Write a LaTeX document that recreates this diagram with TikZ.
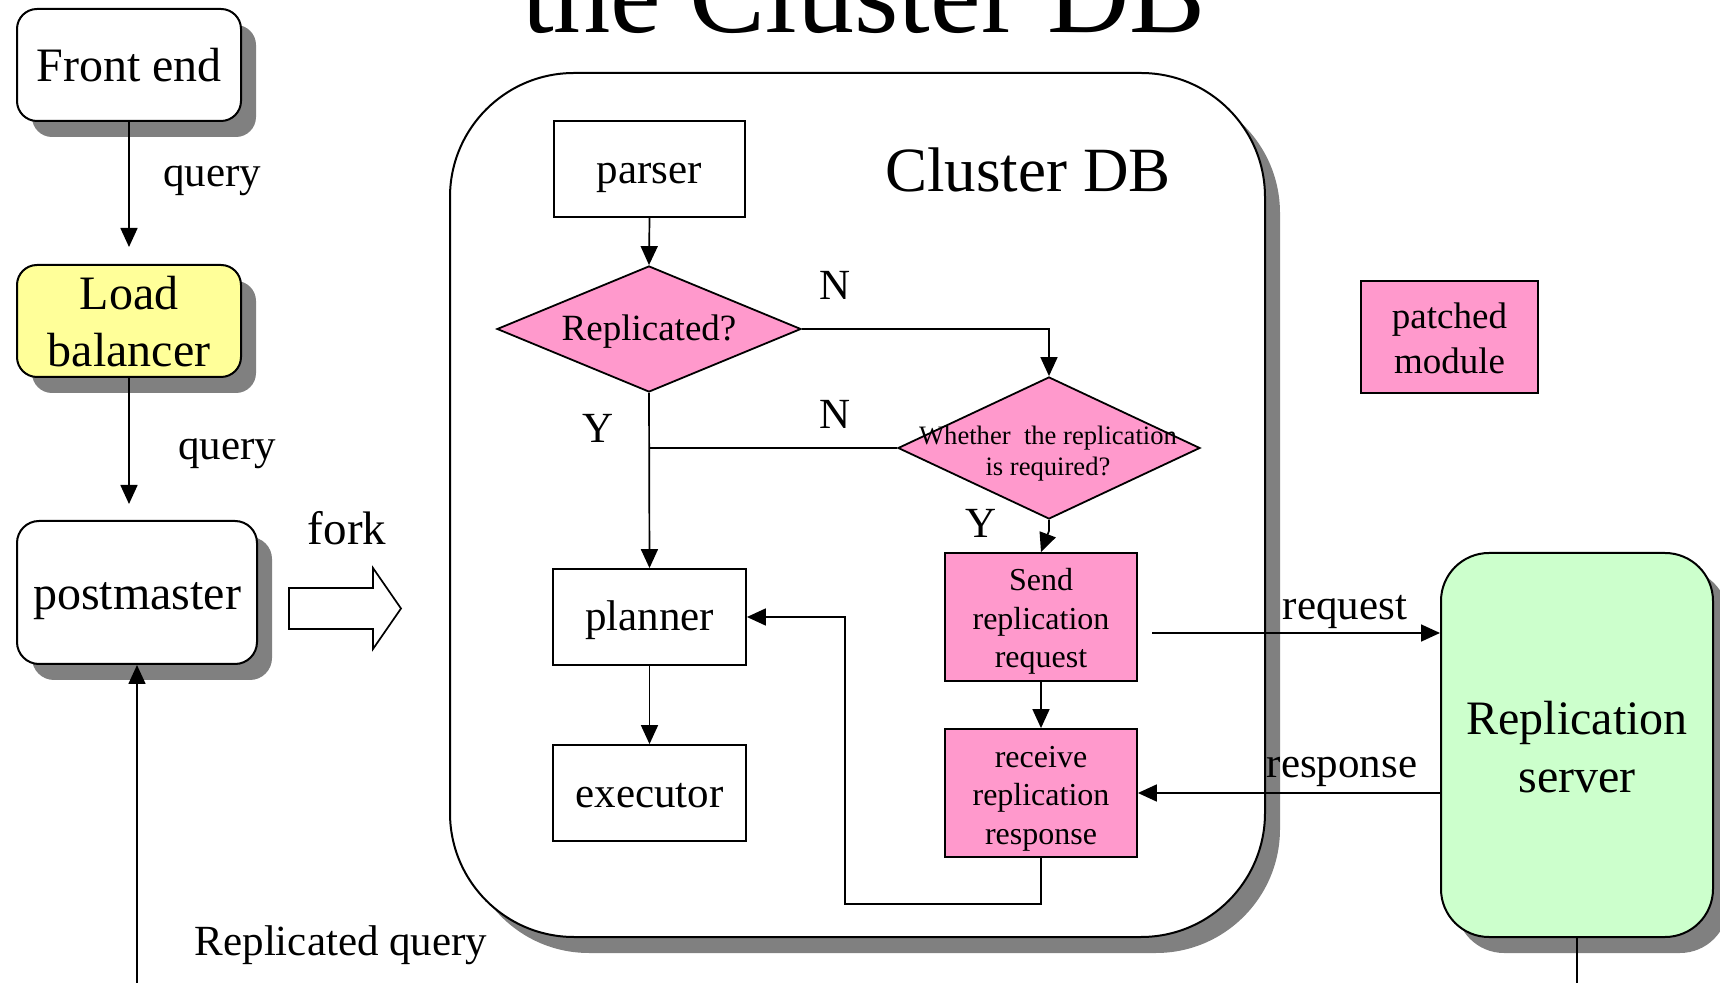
\documentclass[tikz,border=0pt]{standalone}
\usepackage{fontspec}
\setmainfont{Liberation Serif}
\usetikzlibrary{shapes.geometric,shadows,arrows.meta}

\definecolor{pinkfill}{HTML}{FF99CC}
\definecolor{yellowfill}{HTML}{FFFF99}
\definecolor{greenfill}{HTML}{CCFFCC}
\definecolor{shadowgray}{HTML}{808080}

\newcommand\fsz[2]{\fontsize{#1}{#2}\selectfont}

\begin{document}
\begin{tikzpicture}[x=0.5pt,y=-0.5pt,
  boxshadow/.style={drop shadow={shadow xshift=7.5pt,shadow yshift=-8pt,opacity=1,fill=shadowgray}},
  rbox/.style={draw,line width=1pt,rounded corners=10pt,fill=white,boxshadow,inner sep=0pt,align=center},
  sqbox/.style={draw,line width=0.9pt,fill=white,inner sep=0pt,align=center},
  pinkbox/.style={sqbox,fill=pinkfill},
  dia/.style={diamond,draw,line width=0.9pt,fill=pinkfill,inner sep=0pt},
  % places the (last) baseline of a node text below its centre
  below/.style={text height=#1,text depth=0pt},
  lbl/.style={inner sep=0pt,anchor=base,font=\fsz{21.5}{25}},
  conn/.style={line width=0.85pt},
  arr/.style={conn,-{Triangle[length=9.5pt,width=8.5pt]}},
]
\useasboundingbox (0,0) rectangle (1720,983);
\clip (0,0) rectangle (1720,983);

% heading, partly above the top edge
\node[anchor=base,inner sep=0pt,font=\fsz{57}{60}] (title) at (864,33) {the Cluster DB};

% client side
\node[rbox,below=16.7pt,minimum width=112pt,minimum height=56pt,font=\fsz{24}{28}] (front) at (129,65) {Front end};
\node[rbox,below=46pt,fill=yellowfill,minimum width=112pt,minimum height=56pt,font=\fsz{24}{28.5}] (lb) at (129,321) {Load\\balancer};
\node[rbox,below=17.5pt,rounded corners=11pt,minimum width=120pt,minimum height=71.5pt,font=\fsz{24}{28}] (pm) at (137,592.5) {postmaster};

% the cluster database process
\node[rbox,rounded corners=62pt,minimum width=407.5pt,minimum height=432pt] (cdb) at (857.5,505) {};
\node[anchor=base,inner sep=0pt,font=\fsz{31.5}{36}] (cdblabel) at (1028,192) {Cluster DB};

\node[sqbox,below=15pt,minimum width=95.5pt,minimum height=48pt,font=\fsz{21.5}{25}] (parser) at (649.5,169) {parser};
\node[dia,minimum width=152pt,minimum height=63pt] (rep) at (649,329) {};
\node[inner sep=0pt,below=12pt,font=\fsz{18.5}{22}] (reptxt) at (649,329) {Replicated?};
\node[dia,minimum width=151pt,minimum height=71pt] (req) at (1049,448) {};
\node[inner sep=0pt,below=28pt,align=center,font=\fsz{13.3}{15.7}] (reqtxt) at (1048,448) {Whether~ the replication\\is required?};
\node[sqbox,below=14pt,minimum width=96.5pt,minimum height=48pt,font=\fsz{21.5}{25}] (planner) at (649.5,617) {planner};
\node[sqbox,below=14pt,minimum width=96.5pt,minimum height=48pt,font=\fsz{21.5}{25}] (executor) at (649.5,793) {executor};
\node[pinkbox,below=51pt,minimum width=96pt,minimum height=64pt,font=\fsz{16}{19.25}] (send) at (1041,617) {Send\\replication\\request};
\node[pinkbox,below=51pt,minimum width=96pt,minimum height=64pt,font=\fsz{16}{19.25}] (recv) at (1041,793) {receive\\replication\\response};

% replication side
\node[rbox,below=47pt,rounded corners=24pt,fill=greenfill,minimum width=136pt,minimum height=192pt,font=\fsz{24}{28.5}] (server) at (1577,745) {Replication\\server};
\node[pinkbox,below=37pt,minimum width=88.5pt,minimum height=56pt,font=\fsz{18.5}{22.5}] (patched) at (1449.5,337) {patched\\module};

% fork arrow
\draw[line width=0.85pt,fill=white] (289,588) -- (373,588) -- (373,568) -- (401,608.5)
  -- (373,649) -- (373,629) -- (289,629) -- cycle;

% labels
\node[lbl] (q1) at (212,187) {query};
\node[lbl] (q2) at (227,460) {query};
\node[lbl,font=\fsz{23.5}{27}] (fork) at (347,545) {fork};
\node[lbl] (rq) at (341,955) {Replicated query};
\node[lbl] (n1) at (835,300) {N};
\node[lbl] (n2) at (835,429) {N};
\node[lbl] (y1) at (598,443) {Y};
\node[lbl] (y2) at (981,538) {Y};
\node[lbl] (reqlbl) at (1345,620) {request};
\node[lbl] (resplbl) at (1342,778) {response};

% connectors
\draw[arr,shorten >=8.5pt] (front.south) -- (lb.north);
\draw[arr,shorten >=8pt] (lb.south) -- (lb.south |- pm.north);
\coordinate (rqin) at (137,1000);
\draw[arr] (rqin) -- (pm.south);

\draw[arr] (parser.south) -- (rep.north);
\draw[arr] (rep.east) -| (req.north);
\draw[conn] (req.west) -- (req.west -| rep.south);
\draw[arr] (rep.south) -- (planner.north);
\draw[arr] (req.south) -- ++(0,11) -- (send.north);
\draw[arr] (send.south) -- (recv.north);
\draw[arr] (planner.south) -- (executor.north);
\coordinate (loop) at (845,904);
\draw[arr] (recv.south) |- (loop) |- (planner.east);

\coordinate (reqstart) at (1152,633);
\draw[arr] (reqstart) -- (server.west |- reqstart);
\draw[arr] (server.west |- recv.east) -- (recv.east);
\coordinate (srvout) at (1577,1000);
\draw[conn] (server.south) -- (srvout);
\end{tikzpicture}
\end{document}
